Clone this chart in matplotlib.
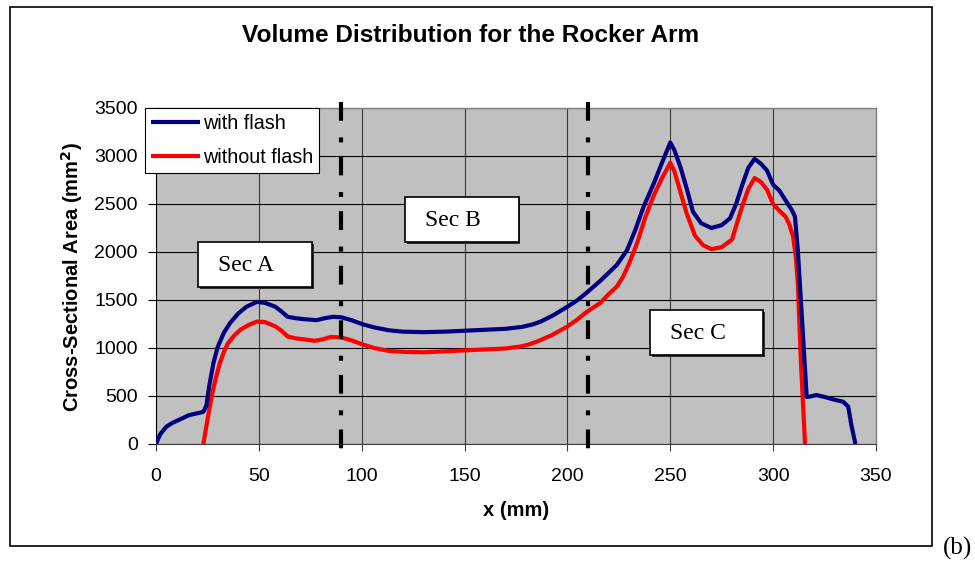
import matplotlib
matplotlib.use("Agg")
import matplotlib.pyplot as plt
from matplotlib.patches import Rectangle

# ---- data ----
x_flash = [0, 2, 5, 8, 12, 16, 20, 23, 24.5, 26, 28, 30, 33, 36, 40, 44, 49, 53, 58, 61, 64, 68,
           72, 78, 82, 86, 90, 95, 100, 106, 113, 120, 130, 140, 150, 160, 170, 178, 183, 187,
           193, 200, 205, 209, 216, 224, 229, 233, 237, 242, 246, 250, 252, 255, 258, 261, 265,
           270, 275, 279, 282, 285, 288, 291, 294, 297, 300, 303, 306, 309, 310.6, 312, 314,
           316.3, 318, 321, 325, 330, 334, 336.5, 338, 340]
y_flash = [0, 100, 180, 220, 260, 300, 320, 335, 400, 620, 850, 1010, 1160, 1260, 1360, 1430,
           1480, 1470, 1430, 1380, 1325, 1310, 1300, 1290, 1310, 1325, 1320, 1290, 1250, 1215,
           1185, 1170, 1165, 1170, 1180, 1190, 1200, 1220, 1245, 1275, 1340, 1430, 1500, 1570,
           1700, 1865, 2020, 2230, 2470, 2715, 2930, 3140, 3060, 2880, 2660, 2420, 2300, 2250,
           2280, 2350, 2500, 2700, 2880, 2970, 2920, 2850, 2700, 2640, 2540, 2440, 2370, 2020,
           1310, 490, 495, 510, 490, 460, 440, 390, 200, 0]

x_noflash = [23, 25, 27, 29, 31, 33, 35, 38, 41, 45, 49, 53, 58, 61, 64, 68, 72, 77, 81, 85, 90,
             95, 100, 106, 113, 120, 130, 140, 150, 160, 170, 177, 181, 185, 192, 199.7, 205, 209,
             216, 220, 224, 227, 230, 234, 238, 242, 246, 250, 252, 255, 258, 262, 266, 270, 275,
             280, 282, 285, 288, 291, 294, 297, 300, 303, 306, 308, 309.7, 311, 312, 313.5, 315.5]
y_noflash = [0, 250, 490, 680, 840, 960, 1050, 1130, 1190, 1240, 1275, 1270, 1225, 1180, 1120,
             1100, 1090, 1075, 1090, 1115, 1110, 1080, 1040, 1000, 970, 960, 955, 965, 975, 985,
             995, 1015, 1035, 1065, 1130, 1220, 1300, 1370, 1470, 1560, 1640, 1740, 1880, 2100,
             2370, 2590, 2770, 2930, 2840, 2620, 2400, 2170, 2070, 2030, 2050, 2130, 2270, 2480,
             2660, 2770, 2730, 2650, 2500, 2430, 2370, 2280, 2160, 1950, 1675, 850, 0]

section_bounds = [90, 210]
section_labels = ["Sec A", "Sec B", "Sec C"]
series_labels = ["with flash", "without flash"]
x_ticks = [0, 50, 100, 150, 200, 250, 300, 350]
y_ticks = [0, 500, 1000, 1500, 2000, 2500, 3000, 3500]

W, H = 975, 563
fig = plt.figure(figsize=(W / 100, H / 100), dpi=100)
fig.patch.set_facecolor("white")

def fx(px):
    return px / W

def fy(py):
    return 1 - py / H

SANS = ["Liberation Sans", "DejaVu Sans"]
SERIF = ["Liberation Serif", "DejaVu Serif"]

# outer frame
fig.patches.append(Rectangle((fx(10), fy(546)), fx(932) - fx(10), fy(7) - fy(546),
                             transform=fig.transFigure, fill=False, edgecolor="black",
                             linewidth=1.2, zorder=0))

ax = fig.add_axes([fx(156), fy(444), fx(876) - fx(156), fy(108) - fy(444)])
ax.set_facecolor("#C0C0C0")
ax.set_xlim(0, 350)
ax.set_ylim(0, 3500)
ax.set_xticks(x_ticks)
ax.set_yticks(y_ticks)
ax.set_xticklabels([str(v) for v in x_ticks], family=SANS, fontsize=14)
ax.set_yticklabels([str(v) for v in y_ticks], family=SANS, fontsize=14)
ax.tick_params(axis="x", direction="out", length=5, width=0.8, color="#404040", pad=12)
ax.tick_params(axis="y", direction="out", length=6, width=0.8, color="black", pad=7)
ax.grid(True, axis="y", color="black", linewidth=0.8)
ax.grid(True, axis="x", color="#3a3a3a", linewidth=0.8)
ax.set_axisbelow(True)
for s in ["top", "right"]:
    ax.spines[s].set_color("#808080")
    ax.spines[s].set_linewidth(1.0)
ax.spines["left"].set_color("black")
ax.spines["bottom"].set_color("#404040")

l1, = ax.plot(x_flash, y_flash, color="#000080", linewidth=3.0, solid_joinstyle="round",
              solid_capstyle="butt", zorder=4)
l2, = ax.plot(x_noflash, y_noflash, color="#FF0000", linewidth=3.0, solid_joinstyle="round",
              solid_capstyle="butt", zorder=3)

# section boundaries (dash-dot), drawn top to bottom
for xb in section_bounds:
    ax.plot([xb, xb], [1.018, -0.024], transform=ax.get_xaxis_transform(), color="black",
            linewidth=3.0, linestyle=(0, (4.5, 4.0, 1.2, 3.4)), dash_capstyle="butt",
            clip_on=False, zorder=5)

# section label boxes (pixel positions)
boxes = [(198, 242, 312, 287, 218), (405, 197, 519, 242, 425), (650, 310, 763, 355, 670)]
for (x0, y0, x1, y1, tx), lab in zip(boxes, section_labels):
    fig.patches.append(Rectangle((fx(x0 + 1.5), fy(y1 + 1.5)), fx(x1) - fx(x0), fy(y0) - fy(y1),
                                 transform=fig.transFigure, facecolor="#303030",
                                 edgecolor="none", zorder=6))
    fig.patches.append(Rectangle((fx(x0), fy(y1)), fx(x1) - fx(x0), fy(y0) - fy(y1),
                                 transform=fig.transFigure, facecolor="white",
                                 edgecolor="black", linewidth=1.2, zorder=7))
    fig.text(fx(tx), fy((y0 + y1) / 2 + 1), lab, family=SERIF, fontsize=17,
             ha="left", va="center", zorder=8)

leg = ax.legend([l1, l2], series_labels, loc="upper left",
                bbox_to_anchor=(fx(145), fy(108)), bbox_transform=fig.transFigure,
                borderaxespad=0, prop={"family": SANS, "size": 14.2}, frameon=True,
                fancybox=False, framealpha=1, edgecolor="black", handlelength=2.5,
                handletextpad=0.15, borderpad=0.3, labelspacing=0.75)
leg.get_frame().set_linewidth(0.8)
leg.set_zorder(10)

fig.text(fx(471), fy(35), "Volume Distribution for the Rocker Arm", family=SANS,
         fontsize=17.6, fontweight="bold", ha="center", va="center")
fig.text(fx(516), fy(510), "x (mm)", family=SANS, fontsize=14.5, fontweight="bold",
         ha="center", va="center")
fig.text(fx(72), fy(277), "Cross-Sectional Area (mm$^\\mathbf{2}$)", family=SANS,
         fontsize=14.5, fontweight="bold", ha="center", va="center", rotation=90)
fig.text(fx(957), fy(548), "(b)", family=SERIF, fontsize=18, ha="center", va="center")

fig.savefig("out.png", dpi=100)
